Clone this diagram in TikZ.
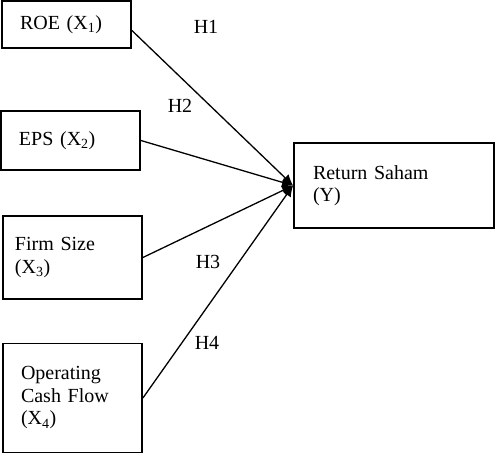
\documentclass[tikz,border=0pt]{standalone}
\usepackage{fontspec}
\setmainfont{Liberation Serif}
\usetikzlibrary{arrows.meta, positioning}
\tikzset{
  varbox/.style  = {draw, line width=1.8pt, rectangle, align=left,
                    inner xsep=18pt, inner ysep=0pt,
                    font=\fontsize{20}{22.5}\selectfont},
  hyplbl/.style  = {font=\fontsize{20}{22.5}\selectfont, inner sep=0pt},
  path/.style    = {-{Latex[length=11pt,width=10pt]}, line width=1.3pt},
}
\begin{document}
\begin{tikzpicture}[x=1pt, y=-1pt]
    \useasboundingbox (0,0) rectangle (496,454);
    % Independent variables
    \node[varbox, text width=93pt, minimum height=47pt]  (roe)  at (66.5,24.5)  {ROE (X\textsubscript{1})};
    \node[varbox, text width=103pt, minimum height=59pt] (eps)  at (70.5,140.5) {EPS (X\textsubscript{2})};
    \node[varbox, minimum height=83pt, inner xsep=12pt, text width=115pt] (size) at (72.5,257.5) {Firm Size\\(X\textsubscript{3})};
    \node[varbox, text width=103pt, minimum height=109pt] (ocf)  at (72.5,398)   {Operating\\Cash Flow\\(X\textsubscript{4})\\[-6pt]};
    % Dependent variable
    \node[varbox, text width=162pt, inner xsep=19pt, minimum height=85pt] (ret) at (394,185.5) {Return Saham\\(Y)};

    \draw[path] ([yshift=-6pt]roe.east) -- (ret.west);
    \draw[path] (eps.east)  -- (ret.west);
    \draw[path] (size.east) -- (ret.west);
    \draw[path] (ocf.east)  -- (ret.west);

    \node[hyplbl] (h1) at (206,27)  {H1};
    \node[hyplbl] (h2) at (180,106) {H2};
    \node[hyplbl] (h3) at (208,262) {H3};
    \node[hyplbl] (h4) at (207,343) {H4};
\end{tikzpicture}
\end{document}
